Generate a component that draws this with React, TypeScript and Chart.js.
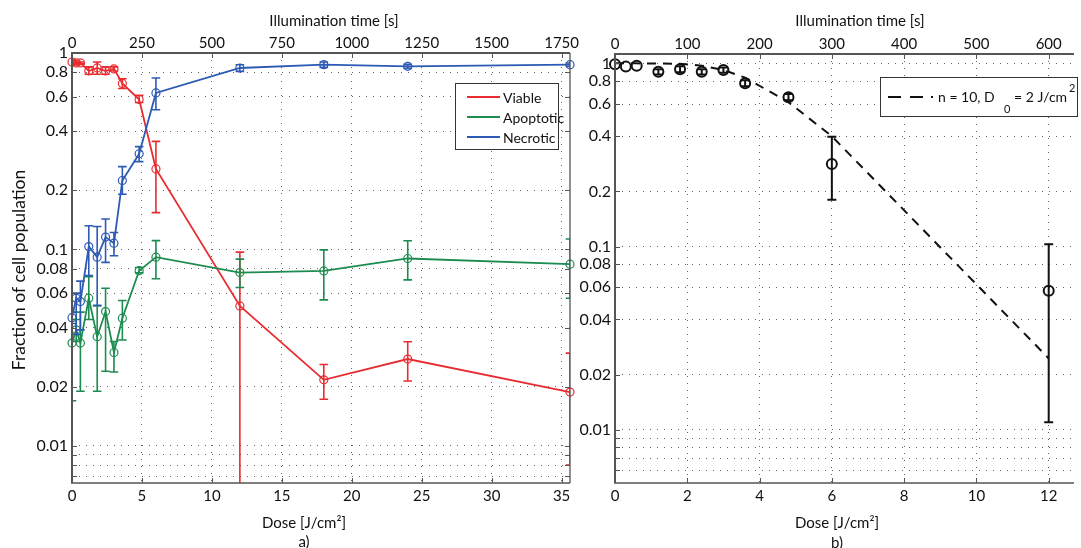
import React, { useEffect, useRef } from "react";
import { Chart, registerables } from "chart.js";
Chart.register(...registerables);

const FONT = "Lato, 'Open Sans', sans-serif";
const RED = "rgb(232, 44, 48)";
const GREEN = "rgb(28, 140, 80)";
const BLUE = "rgb(44, 90, 180)";
const GRID = "rgba(60,60,60,0.8)";
const AXIS = "#555";

// ---------- Panel a) ----------
const doseA = [0, 0.3, 0.6, 1.2, 1.8, 2.4, 3.0, 3.6, 4.8, 6, 12, 18, 24, 35.6];
const viable = [0.9, 0.89, 0.89, 0.81, 0.84, 0.81, 0.83, 0.7, 0.58, 0.257, 0.0516, 0.0217, 0.0277, 0.0188];
const viableHigh = [0.92, 0.91, 0.9, 0.85, 0.9, 0.85, 0.85, 0.74, 0.61, 0.355, 0.097, 0.026, 0.0339, 0.0297];
const viableLow = [0.88, 0.87, 0.88, 0.78, 0.78, 0.78, 0.81, 0.66, 0.56, 0.154, 0.001, 0.0173, 0.0214, 0.008];
const apoptotic = [0.0334, 0.039, 0.0334, 0.0565, 0.036, 0.0483, 0.0299, 0.0447, 0.078, 0.0914, 0.0763, 0.0778, 0.09, 0.0842];
const apoptoticHigh = [0.044, 0.044, 0.048, 0.0728, 0.0516, 0.0635, 0.034, 0.055, 0.081, 0.111, 0.0893, 0.0996, 0.1107, 0.113];
const apoptoticLow = [0.017, 0.034, 0.019, 0.044, 0.019, 0.024, 0.0238, 0.0346, 0.076, 0.071, 0.064, 0.0554, 0.07, 0.0565];
const necrotic = [0.045, 0.0565, 0.0543, 0.1035, 0.0914, 0.1156, 0.1077, 0.2245, 0.307, 0.626, 0.839, 0.872, 0.855, 0.872];
const necroticHigh = [0.048, 0.06, 0.069, 0.132, 0.131, 0.143, 0.122, 0.264, 0.334, 0.746, 0.872, 0.9, 0.875, 0.89];
const necroticLow = [0.042, 0.037, 0.039, 0.0736, 0.052, 0.086, 0.093, 0.191, 0.28, 0.514, 0.806, 0.845, 0.835, 0.855];
const doseTicksA = [0, 5, 10, 15, 20, 25, 30, 35];
const timeTicksA = [0, 250, 500, 750, 1000, 1250, 1500, 1750];
const yTicksA = [0.007, 0.008, 0.009, 0.01, 0.02, 0.04, 0.06, 0.08, 0.1, 0.2, 0.4, 0.6, 0.8, 1];
const yLabelsA = ["", "", "", "0.01", "0.02", "0.04", "0.06", "0.08", "0.1", "0.2", "0.4", "0.6", "0.8", "1"];
const legendA = ["Viable", "Apoptotic", "Necrotic"];

// ---------- Panel b) ----------
const doseB = [0, 0.3, 0.6, 1.2, 1.8, 2.4, 3.0, 3.6, 4.8, 6, 12];
const survival = [0.99, 0.96, 0.97, 0.9, 0.93, 0.9, 0.92, 0.78, 0.653, 0.282, 0.0573];
const survivalHigh = [0.99, 0.96, 0.97, 0.93, 0.965, 0.93, 0.95, 0.81, 0.68, 0.398, 0.103];
const survivalLow = [0.99, 0.96, 0.97, 0.87, 0.895, 0.87, 0.89, 0.75, 0.63, 0.18, 0.011];
const modelFit = [1, 1, 1, 0.9996, 0.995, 0.972, 0.92, 0.836, 0.614, 0.4, 0.0245];
const doseTicksB = [0, 2, 4, 6, 8, 10, 12];
const timeTicksB = [0, 100, 200, 300, 400, 500, 600];
const yTicksB = [0.006, 0.007, 0.008, 0.009, 0.01, 0.02, 0.04, 0.06, 0.08, 0.1, 0.2, 0.4, 0.6, 0.8, 1];
const yLabelsB = ["", "", "", "", "0.01", "0.02", "0.04", "0.06", "0.08", "0.1", "0.2", "0.4", "0.6", "0.8", "1"];

const labelFor = (list: number[], labels: string[]) => (v: any) => {
  const val = Number(v);
  const i = list.findIndex((t) => Math.abs(t - val) / t < 1e-6);
  return i >= 0 ? labels[i] : "";
};

function line(ctx: CanvasRenderingContext2D, x1: number, y1: number, x2: number, y2: number, w: number, color: string) {
  ctx.save();
  ctx.strokeStyle = color;
  ctx.lineWidth = w;
  ctx.beginPath();
  ctx.moveTo(x1, y1);
  ctx.lineTo(x2, y2);
  ctx.stroke();
  ctx.restore();
}

function text(ctx: CanvasRenderingContext2D, s: string, x: number, y: number, size: number, align: CanvasTextAlign = "center", baseline: CanvasTextBaseline = "middle") {
  ctx.save();
  ctx.font = `${size}px ${FONT}`;
  ctx.fillStyle = "#111";
  ctx.textAlign = align;
  ctx.textBaseline = baseline;
  ctx.fillText(s, x, y);
  ctx.restore();
}

function drawErrorBars(chart: any, cap: number) {
  const { ctx, chartArea } = chart;
  const xs = chart.scales.x;
  const ys = chart.scales.y;
  ctx.save();
  ctx.beginPath();
  ctx.rect(chartArea.left - 1, chartArea.top - 1, chartArea.right - chartArea.left + 1, chartArea.bottom - chartArea.top + 1);
  ctx.clip();
  chart.data.datasets.forEach((ds: any) => {
    if (!ds.errLow) return;
    ctx.strokeStyle = ds.borderColor;
    ctx.lineWidth = ds.errWidth || 1.6;
    ds.data.forEach((p: any, i: number) => {
      if (ds.errLow[i] === ds.errHigh[i]) return;
      const x = xs.getPixelForValue(p.x);
      const yl = ys.getPixelForValue(ds.errLow[i]);
      const yh = ys.getPixelForValue(ds.errHigh[i]);
      ctx.beginPath();
      ctx.moveTo(x, yl);
      ctx.lineTo(x, yh);
      ctx.moveTo(x - cap, yl);
      ctx.lineTo(x + cap, yl);
      ctx.moveTo(x - cap, yh);
      ctx.lineTo(x + cap, yh);
      ctx.stroke();
    });
  });
  ctx.restore();
}

function drawFrame(chart: any, rightBorder: boolean) {
  const { ctx, chartArea } = chart;
  const { left, right, top, bottom } = chartArea;
  const xs = chart.scales.x;
  const x2 = chart.scales.x2;
  const ys = chart.scales.y;
  const tl = 5;
  xs.ticks.forEach((t: any) => {
    const px = Math.round(xs.getPixelForValue(t.value)) + 0.5;
    line(ctx, px, bottom, px, bottom - tl, 1, AXIS);
  });
  x2.ticks.forEach((t: any) => {
    const px = Math.round(x2.getPixelForValue(t.value)) + 0.5;
    line(ctx, px, top, px, top + tl, 1, AXIS);
  });
  ys.ticks.forEach((t: any) => {
    const py = Math.round(ys.getPixelForValue(t.value)) + 0.5;
    line(ctx, left, py, left + tl, py, 1, AXIS);
    if (rightBorder) line(ctx, right, py, right - tl, py, 1, AXIS);
  });
  line(ctx, left, top, left, bottom, 2, AXIS);
  line(ctx, left - 1, bottom, right, bottom, 1.6, AXIS);
  line(ctx, left - 1, top, right, top, 2, AXIS);
  if (rightBorder) line(ctx, right, top, right, bottom, 1.3, AXIS);
}

const decorA = {
  id: "decorA",
  afterDatasetsDraw(chart: any) {
    drawErrorBars(chart, 4.3);
  },
  afterDraw(chart: any) {
    const ctx = chart.ctx as CanvasRenderingContext2D;
    drawFrame(chart, true);
    ctx.save();
    ctx.fillStyle = "#fff";
    ctx.fillRect(455, 83, 103, 66);
    ctx.strokeStyle = "#333";
    ctx.lineWidth = 1;
    ctx.strokeRect(455.5, 83.5, 103, 66);
    ctx.restore();
    const colors = [RED, GREEN, BLUE];
    legendA.forEach((s, i) => {
      const y = 97 + i * 20;
      line(ctx, 467, y, 500, y, 2, colors[i]);
      text(ctx, s, 503, y + 1, 14, "left");
    });
    text(ctx, "Illumination time [s]", 334, 21, 15);
    text(ctx, "Dose [J/cm²]", 304, 523, 15);
    text(ctx, "a)", 304, 542, 15);
    ctx.save();
    ctx.translate(19, 270);
    ctx.rotate(-Math.PI / 2);
    text(ctx, "Fraction of cell population", 0, 0, 17.5);
    ctx.restore();
  },
};

const decorB = {
  id: "decorB",
  afterDatasetsDraw(chart: any) {
    drawErrorBars(chart, 4.5);
  },
  afterDraw(chart: any) {
    const ctx = chart.ctx as CanvasRenderingContext2D;
    drawFrame(chart, false);
    ctx.save();
    ctx.fillStyle = "#fff";
    ctx.fillRect(880, 77, 197, 39);
    ctx.strokeStyle = "#333";
    ctx.lineWidth = 1;
    ctx.strokeRect(880.5, 77.5, 197, 39);
    ctx.restore();
    line(ctx, 888, 97, 901, 97, 2, "#111");
    line(ctx, 910, 97, 923, 97, 2, "#111");
    line(ctx, 931, 97, 933, 97, 2, "#111");
    const base = 102;
    text(ctx, "n = 10, D", 938, base, 14, "left", "alphabetic");
    text(ctx, "0", 1004, 113, 11, "left", "alphabetic");
    text(ctx, "= 2 J/cm", 1014, base, 14, "left", "alphabetic");
    text(ctx, "2", 1069, 92, 11, "left", "alphabetic");
    text(ctx, "Illumination time [s]", 860, 21, 15);
    text(ctx, "Dose [J/cm²]", 837, 523, 15);
    text(ctx, "b)", 837, 543, 15);
  },
};

const series = (label: string, xs: number[], ys: number[], lo: number[], hi: number[], color: string, order: number) => ({
  label,
  data: xs.map((x, i) => ({ x, y: ys[i] })),
  borderColor: color,
  backgroundColor: color,
  borderWidth: 1.8,
  pointRadius: 4,
  pointHoverRadius: 4,
  pointBorderWidth: 1.2,
  pointBorderColor: color,
  pointBackgroundColor: "rgba(255,255,255,0)",
  tension: 0,
  fill: false,
  clip: false,
  order,
  errLow: lo,
  errHigh: hi,
});

function scales(opts: {
  xMax: number; tMax: number; yMin: number; yMax: number;
  doseTicks: number[]; timeTicks: number[]; yTicks: number[]; yLabels: string[];
  yWidth: number; topH: number;
}) {
  const tickFont = { family: FONT, size: 15 };
  return {
    x: {
      type: "linear", position: "bottom", min: 0, max: opts.xMax,
      afterBuildTicks: (s: any) => { s.ticks = opts.doseTicks.map((v) => ({ value: v })); },
      afterFit: (s: any) => { s.height = 65; },
      ticks: { font: tickFont, color: "#111", padding: 4, maxRotation: 0, autoSkip: false, callback: (v: any) => String(v) },
      grid: { color: GRID, lineWidth: 1, drawTicks: false },
      border: { display: false, dash: [1, 6] },
    },
    x2: {
      type: "linear", position: "top", min: 0, max: opts.tMax,
      afterBuildTicks: (s: any) => { s.ticks = opts.timeTicks.map((v) => ({ value: v })); },
      afterFit: (s: any) => { s.height = opts.topH; },
      ticks: { font: tickFont, color: "#111", padding: 1, maxRotation: 0, autoSkip: false, callback: (v: any) => String(v) },
      grid: { display: false, drawTicks: false },
      border: { display: false },
    },
    y: {
      type: "logarithmic", position: "left", min: opts.yMin, max: opts.yMax,
      afterBuildTicks: (s: any) => { s.ticks = opts.yTicks.map((v) => ({ value: v })); },
      afterFit: (s: any) => { s.width = opts.yWidth; },
      ticks: { font: { family: FONT, size: 16 }, color: "#111", padding: 4, autoSkip: false, callback: labelFor(opts.yTicks, opts.yLabels) },
      grid: { color: GRID, lineWidth: 1, drawTicks: false },
      border: { display: false, dash: [1, 6] },
    },
  };
}

export default function App() {
  const refA = useRef<HTMLCanvasElement>(null);
  const refB = useRef<HTMLCanvasElement>(null);

  useEffect(() => {
    document.body.style.margin = "0";
    const chartA = new Chart(refA.current as HTMLCanvasElement, {
      type: "line",
      data: {
        datasets: [
          series("Viable", doseA, viable, viableLow, viableHigh, RED, 3),
          series("Apoptotic", doseA, apoptotic, apoptoticLow, apoptoticHigh, GREEN, 2),
          series("Necrotic", doseA, necrotic, necroticLow, necroticHigh, BLUE, 1),
        ] as any,
      },
      options: {
        responsive: false,
        animation: false,
        events: [],
        layout: { padding: { left: 0, right: 511, top: 0, bottom: 0 } },
        plugins: { legend: { display: false }, tooltip: { enabled: false } },
        scales: scales({
          xMax: 35.6, tMax: 1780, yMin: 0.00648, yMax: 1,
          doseTicks: doseTicksA, timeTicks: timeTicksA, yTicks: yTicksA, yLabels: yLabelsA,
          yWidth: 72, topH: 53,
        }) as any,
      },
      plugins: [decorA],
    });

    const chartB = new Chart(refB.current as HTMLCanvasElement, {
      type: "line",
      data: {
        datasets: [
          {
            label: "Survival",
            data: doseB.map((x, i) => ({ x, y: survival[i] })),
            showLine: false,
            borderColor: "#111",
            backgroundColor: "#111",
            pointRadius: 5,
            pointHoverRadius: 5,
            pointBorderWidth: 2,
            pointBorderColor: "#111",
            pointBackgroundColor: "rgba(255,255,255,0)",
            clip: false,
            errLow: survivalLow,
            errHigh: survivalHigh,
            errWidth: 2,
            order: 1,
          },
          {
            label: "n = 10, D0 = 2 J/cm2",
            data: doseB.map((x, i) => ({ x, y: modelFit[i] })),
            borderColor: "#111",
            borderWidth: 2,
            borderDash: [9, 7],
            pointRadius: 0,
            tension: 0,
            fill: false,
            clip: false,
            order: 2,
          },
        ] as any,
      },
      options: {
        responsive: false,
        animation: false,
        events: [],
        layout: { padding: { left: 0, right: 0, top: 0, bottom: 0 } },
        plugins: { legend: { display: false }, tooltip: { enabled: false } },
        scales: scales({
          xMax: 12.7, tMax: 635, yMin: 0.00512, yMax: 1.125,
          doseTicks: doseTicksB, timeTicks: timeTicksB, yTicks: yTicksB, yLabels: yLabelsB,
          yWidth: 615, topH: 54,
        }) as any,
      },
      plugins: [decorB],
    });

    return () => {
      chartA.destroy();
      chartB.destroy();
    };
  }, []);

  return (
    <div style={{ position: "relative", width: 1081, height: 548, background: "#fff", overflow: "hidden" }}>
      <canvas ref={refA} width={1081} height={548} style={{ position: "absolute", left: 0, top: 0 }} />
      <canvas ref={refB} width={1081} height={548} style={{ position: "absolute", left: 0, top: 0 }} />
    </div>
  );
}
